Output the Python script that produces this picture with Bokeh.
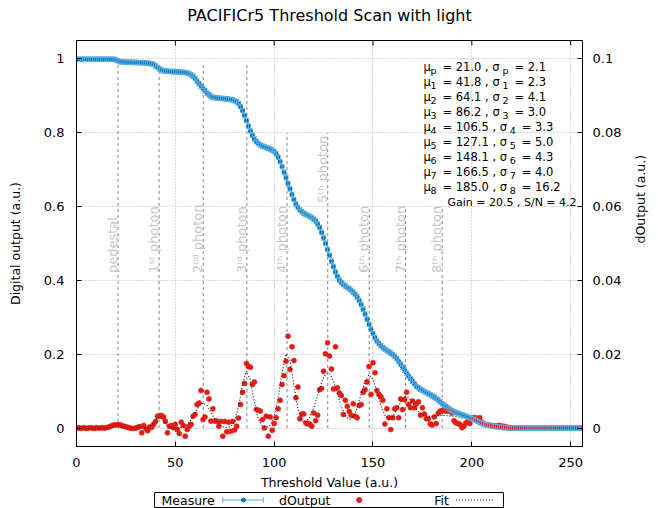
import math
from bokeh.plotting import figure
from bokeh.models import (Range1d, LinearAxis, FixedTicker, Whisker, TeeHead,
                          ColumnDataSource, NumeralTickFormatter)
from bokeh.layouts import column
from bokeh.embed import file_html
from bokeh.resources import INLINE
from bokeh.core.properties import value

# ---------------- data ----------------
title_text = "PACIFICr5 Threshold Scan with light"
threshold = list(range(256))

measure = [
    0.999, 0.999, 0.999, 0.999, 0.999, 0.999, 0.999, 0.999, 0.999, 0.999,
    0.999, 0.999, 0.999, 0.999, 0.999, 0.999, 0.999, 0.999, 0.999, 0.999,
    0.997, 0.995, 0.993, 0.992, 0.992, 0.991, 0.991, 0.991, 0.991, 0.990,
    0.991, 0.990, 0.990, 0.990, 0.990, 0.989, 0.989, 0.988, 0.987, 0.985,
    0.981, 0.977, 0.973, 0.970, 0.968, 0.967, 0.967, 0.966, 0.966, 0.966,
    0.965, 0.965, 0.965, 0.964, 0.964, 0.963, 0.962, 0.960, 0.957, 0.953,
    0.947, 0.940, 0.933, 0.926, 0.920, 0.914, 0.908, 0.903, 0.899, 0.896,
    0.895, 0.894, 0.894, 0.893, 0.893, 0.892, 0.892, 0.891, 0.890, 0.889,
    0.887, 0.884, 0.879, 0.871, 0.860, 0.847, 0.833, 0.818, 0.805, 0.793,
    0.783, 0.776, 0.771, 0.767, 0.764, 0.762, 0.760, 0.758, 0.756, 0.753,
    0.749, 0.743, 0.734, 0.722, 0.708, 0.693, 0.678, 0.663, 0.648, 0.633,
    0.619, 0.607, 0.598, 0.591, 0.586, 0.582, 0.579, 0.576, 0.573, 0.570,
    0.566, 0.561, 0.553, 0.543, 0.530, 0.515, 0.500, 0.484, 0.468, 0.452,
    0.437, 0.423, 0.411, 0.401, 0.394, 0.389, 0.385, 0.381, 0.377, 0.373,
    0.368, 0.362, 0.355, 0.346, 0.335, 0.322, 0.309, 0.295, 0.281, 0.268,
    0.256, 0.245, 0.236, 0.229, 0.223, 0.218, 0.214, 0.210, 0.207, 0.203,
    0.199, 0.194, 0.188, 0.181, 0.173, 0.165, 0.157, 0.149, 0.141, 0.134,
    0.127, 0.120, 0.113, 0.109, 0.105, 0.102, 0.099, 0.096, 0.093, 0.090,
    0.087, 0.084, 0.080, 0.076, 0.071, 0.066, 0.062, 0.058, 0.054, 0.050,
    0.047, 0.044, 0.042, 0.040, 0.038, 0.036, 0.034, 0.032, 0.030, 0.028,
    0.026, 0.024, 0.021, 0.018, 0.015, 0.013, 0.011, 0.009, 0.008, 0.007,
    0.006, 0.005, 0.004, 0.003, 0.002, 0.002, 0.001, 0.001, 0.000, 0.000,
    0.000, 0.000, 0.000, 0.000, 0.000, 0.000, 0.000, 0.000, 0.000, 0.000,
    0.000, 0.000, 0.000, 0.000, 0.000, 0.000, 0.000, 0.000, 0.000, 0.000,
    0.000, 0.000, 0.000, 0.000, 0.000, 0.000, 0.000, 0.000, 0.000, 0.000,
    0.000, 0.000, 0.000, 0.000, 0.000, 0.000,
]
measure_err = 0.006

doutput = [
    0.0000, 0.0001, -0.0001, 0.0000, 0.0001, -0.0001, 0.0000, 0.0001, 0.0000, -0.0001,
    0.0001, 0.0000, 0.0000, 0.0001, 0.0000, 0.0001, 0.0002, 0.0004, 0.0007, 0.0008,
    0.0009, 0.0008, 0.0009, 0.0006, 0.0005, 0.0003, 0.0002, 0.0000, -0.0001, -0.0001,
    0.0000, 0.0002, 0.0004, -0.0013, 0.0007, -0.0002, -0.0007, 0.0003, 0.0002, 0.0010,
    0.0018, 0.0032, 0.0033, 0.0034, 0.0030, 0.0018, -0.0013, 0.0005, 0.0007, 0.0001,
    0.0010, -0.0004, -0.0015, 0.0016, 0.0007, -0.0022, -0.0004, 0.0005, 0.0010, 0.0032,
    0.0037, 0.0064, 0.0068, 0.0102, 0.0023, 0.0030, 0.0097, 0.0079, 0.0019, 0.0052,
    0.0019, 0.0019, 0.0005, 0.0018, -0.0022, 0.0018, -0.0010, 0.0016, -0.0009, 0.0018,
    -0.0005, 0.0005, 0.0027, 0.0064, 0.0097, 0.0121, 0.0175, 0.0167, 0.0165, 0.0118,
    0.0125, 0.0050, 0.0048, 0.0046, 0.0023, 0.0000, 0.0032, -0.0022, 0.0030, -0.0006,
    0.0012, 0.0028, 0.0052, 0.0075, 0.0118, 0.0142, 0.0181, 0.0249, 0.0159, 0.0220,
    0.0183, 0.0082, 0.0111, 0.0025, 0.0038, 0.0038, 0.0014, 0.0011, 0.0011, 0.0005,
    0.0041, 0.0020, 0.0035, 0.0104, 0.0107, 0.0154, 0.0201, 0.0231, 0.0195, 0.0160,
    0.0106, 0.0220, 0.0109, 0.0095, 0.0088, 0.0037, 0.0075, 0.0059, 0.0045, 0.0035,
    0.0066, 0.0032, 0.0028, 0.0061, 0.0064, 0.0097, 0.0104, 0.0125, 0.0167, 0.0091,
    0.0177, 0.0150, 0.0102, 0.0091, 0.0085, 0.0075, 0.0011, 0.0052, 0.0028, -0.0004,
    0.0028, 0.0052, 0.0055, 0.0028, 0.0079, 0.0050, 0.0077, 0.0097, 0.0064, 0.0055,
    0.0073, 0.0055, 0.0066, 0.0071, 0.0035, 0.0055, 0.0038, 0.0025, 0.0025, 0.0011,
    0.0008, 0.0030, 0.0012, 0.0040, 0.0046, 0.0047, 0.0047, 0.0046, 0.0046, 0.0050,
    0.0041, 0.0020, 0.0014, 0.0012, 0.0010, 0.0001, 0.0005, 0.0014, 0.0018, 0.0012,
    0.0028, 0.0028, 0.0028, 0.0025, 0.0028, 0.0016, 0.0011, 0.0009, 0.0009, 0.0007,
    0.0007, 0.0006, 0.0005, 0.0006, 0.0007, 0.0005, 0.0005, 0.0003, 0.0002, 0.0001,
    0.0000, 0.0000, 0.0000, 0.0000, 0.0000, 0.0000, 0.0000, 0.0000, 0.0000, 0.0000,
    0.0000, 0.0000, 0.0000, 0.0000, 0.0000, 0.0000, 0.0000, 0.0000, 0.0000, 0.0000,
    0.0000, 0.0000, 0.0000, 0.0000, 0.0000, 0.0000, 0.0000, 0.0000, 0.0000, 0.0000,
    0.0000, 0.0000, 0.0000, 0.0000, 0.0000, 0.0000,
]

fit_x = list(range(0, 256, 2))
fit_y = [
    0, 0, 0, 0, 0, 0, 0, 0,
    0.00005, 0.00029, 0.00071, 0.00071, 0.00029, 0.00005, 0, 0, 0, 0.00001, 0.00013, 0.00079,
    0.00228, 0.00309, 0.00196, 0.00059, 0.00008, 0.00002, 0.00009, 0.00033, 0.00097, 0.00225,
    0.00413, 0.00596, 0.0068, 0.00611, 0.00433, 0.00242, 0.00106, 0.00037, 0.00015, 0.00039,
    0.00183, 0.00582, 0.01184, 0.01547, 0.01295, 0.00695, 0.00239, 0.00055, 0.0002, 0.00074,
    0.00292, 0.00801, 0.01524, 0.02007, 0.01831, 0.01161, 0.00522, 0.00201, 0.0016, 0.00291,
    0.00547, 0.00892, 0.01238, 0.01464, 0.01476, 0.01268, 0.00929, 0.00585, 0.00335, 0.00232,
    0.00301, 0.00547, 0.0092, 0.0128, 0.01445, 0.01321, 0.00985, 0.00614, 0.00354, 0.00256,
    0.00316, 0.00493, 0.00708, 0.00846, 0.0083, 0.00685, 0.00511, 0.00387, 0.00332, 0.00321,
    0.00326, 0.00334, 0.00339, 0.00339, 0.00334, 0.00324, 0.0031, 0.00291, 0.0027, 0.00246,
    0.00221, 0.00196, 0.00171, 0.00147, 0.00124, 0.00103, 0.00085, 0.00069, 0.00055, 0.00043,
    0.00033, 0.00025, 0.00019, 0.00014, 0.0001, 0.00007, 0.00005, 0.00003, 0.00002, 0,
    0, 0, 0, 0, 0, 0, 0, 0,
]

peak_mu = [21.0, 41.8, 64.1, 86.2, 106.5, 127.1, 148.1, 166.5, 185.0]
peak_sigma = [2.1, 2.3, 4.1, 3.0, 3.3, 5.0, 4.3, 4.0, 16.2]
peak_index = ["p", "1", "2", "3", "4", "5", "6", "7", "8"]
peak_names = ["pedestal", "1ˢᵗ photon", "2ⁿᵈ photon", "3ʳᵈ photon", "4ᵗʰ photon",
              "5ᵗʰ photon", "6ᵗʰ photon", "7ᵗʰ photon", "8ᵗʰ photon"]
peak_line_top = [0.99, 0.99, 0.99, 0.99, 0.80, 0.80, 0.60, 0.60, 0.60]
peak_label_y = [0.42, 0.42, 0.42, 0.42, 0.42, 0.61, 0.42, 0.42, 0.42]
gain = 20.5
snr = 4.2

x_ticks = [0, 50, 100, 150, 200, 250]
y_ticks = [0, 0.2, 0.4, 0.6, 0.8, 1.0]
y2_ticks = [0, 0.02, 0.04, 0.06, 0.08, 0.1]

# ---------------- style ----------------
FONT = "DejaVu Sans"
BLUE = "#0070b8"
ERRBLUE = "#5aaee0"
RED = "#e41c14"
GRID = "#b4b4b4"

FRAME_LEFT, FRAME_RIGHT = 76, 588          # page pixels of the plot frame
X0, X1 = 0, 256
Y0, Y1 = -0.05, 1.05
FRAME_W, FRAME_H = FRAME_RIGHT - FRAME_LEFT, 406
PXX = FRAME_W / (X1 - X0)      # px per x unit
PXY = FRAME_H / (Y1 - Y0)      # px per y unit


def bare_panel(h):
    # frames in a column are aligned with the main plot's frame, so map the
    # x range onto page pixels of that frame
    f = figure(width=658, height=h, x_range=Range1d(FRAME_LEFT, FRAME_RIGHT),
               y_range=Range1d(h, 0), output_backend="svg", toolbar_location=None,
               min_border=0, x_axis_location=None, y_axis_location=None)
    f.grid.visible = False
    f.outline_line_color = None
    f.background_fill_color = "white"
    f.border_fill_color = "white"
    return f


# ---------------- title ----------------
hf = bare_panel(28)
hf.text(x=[332], y=[15], text=[title_text], text_font=value(FONT),
        text_font_size="16px", text_color="black", text_align="center",
        text_baseline="middle")

# ---------------- main plot ----------------
p = figure(width=658, height=446, x_range=Range1d(X0, X1), y_range=Range1d(Y0, Y1),
           output_backend="svg", toolbar_location=None,
           min_border_left=FRAME_LEFT, min_border_right=658 - FRAME_RIGHT,
           min_border_top=12, min_border_bottom=28)
p.outline_line_color = "black"
p.outline_line_width = 1
p.extra_y_ranges = {"y2": Range1d(-0.005, 0.105)}
p.background_fill_color = "white"
p.border_fill_color = "white"


def style_axis(ax, ticks):
    ax.ticker = FixedTicker(ticks=ticks)
    ax.minor_tick_line_color = None
    ax.major_tick_in = 5
    ax.major_tick_out = 0
    ax.major_tick_line_color = "black"
    ax.axis_line_color = "black"
    ax.major_label_text_font = FONT
    ax.major_label_text_font_size = "13px"
    ax.major_label_text_color = "black"
    ax.axis_label_text_font = FONT
    ax.axis_label_text_font_size = "12.5px"
    ax.axis_label_text_font_style = "normal"
    ax.axis_label_text_color = "black"


xa = p.xaxis[0]
style_axis(xa, x_ticks)
xa.major_label_standoff = 11

ya = p.yaxis[0]
style_axis(ya, y_ticks)
ya.axis_label = "Digital output (a.u.)"
ya.formatter = NumeralTickFormatter(format="0.[0]")
ya.major_label_standoff = 12
ya.axis_label_standoff = 18

y2 = LinearAxis(y_range_name="y2", axis_label="dOutput (a.u.)")
style_axis(y2, y2_ticks)
y2.formatter = NumeralTickFormatter(format="0.[00]")
y2.major_label_standoff = 10
y2.axis_label_standoff = 16
try:
    y2.axis_label_orientation = math.pi / 2
except AttributeError:
    pass
p.add_layout(y2, "right")

p.xgrid.ticker = FixedTicker(ticks=x_ticks)
p.ygrid.ticker = FixedTicker(ticks=y_ticks)
for g in (p.xgrid[0], p.ygrid[0]):
    g.grid_line_color = GRID
    g.grid_line_dash = "1 2"
    g.grid_line_width = 1

# mirrored ticks on the top edge of the frame
p.segment(x0=x_ticks, y0=[Y1] * len(x_ticks), x1=x_ticks,
          y1=[Y1 - 5 / PXY] * len(x_ticks), line_color="black", line_width=1)

# vertical peak markers and their labels (labels sit just left of each marker)
p.segment(x0=peak_mu, y0=[0] * len(peak_mu), x1=peak_mu, y1=peak_line_top,
          line_color="#858585", line_dash="3 3", line_width=1)
label_x = [m - 5.5 / PXX for m in peak_mu]
p.text(x=label_x, y=peak_label_y, text=peak_names, angle=math.pi / 2,
       text_font=value(FONT), text_font_size="13px", text_color="#c6c6c6",
       text_align="left", text_baseline="alphabetic")

# measured curve with error bars
lo = [m - measure_err for m in measure]
hi = [m + measure_err for m in measure]
src = ColumnDataSource(dict(x=threshold, y=measure, lo=lo, hi=hi))
wh = Whisker(base="x", lower="lo", upper="hi", source=src, line_color=ERRBLUE, line_width=1,
             lower_head=TeeHead(size=5, line_color=ERRBLUE, line_width=1),
             upper_head=TeeHead(size=5, line_color=ERRBLUE, line_width=1), level="glyph")
p.add_layout(wh)
p.scatter(x="x", y="y", source=src, marker="circle", size=4, fill_color=BLUE,
          line_color=BLUE)

# derivative and fit (right axis)
p.scatter(x=threshold, y=doutput, y_range_name="y2", marker="circle", size=5,
          fill_color=RED, line_color=RED, line_alpha=0.6)
p.line(x=fit_x, y=fit_y, y_range_name="y2", line_color="#111111", line_dash="1 2",
       line_width=1.1)

# fit parameter box: main text with lowered, smaller subscripts
ADV = {"0": 0.636, "1": 0.636, "2": 0.636, "3": 0.636, "4": 0.636, "5": 0.636,
       "6": 0.636, "7": 0.636, "8": 0.636, "9": 0.636, " ": 0.318, "=": 0.838,
       ",": 0.318, ".": 0.318, "μ": 0.636, "σ": 0.634, "p": 0.635}
ANN_FS = 11.5
SUB_FS = 9.5
SUB_GAP = 6.0


def text_px(s, fs):
    return sum(ADV.get(c, 0.6) for c in s) * fs


ann_x0 = 175.5
ann_base_y = 0.9769
ann_step = 15 / PXY
main_x, main_y, main_t = [], [], []
sub_x, sub_y, sub_t = [], [], []
for i, (s, m, sg) in enumerate(zip(peak_index, peak_mu, peak_sigma)):
    yb = ann_base_y - i * ann_step
    pieces = ["μ", s, f" = {m:.1f} , σ", s, f" = {sg:.1f}"]
    xpx = 0.0
    for k, piece in enumerate(pieces):
        if k % 2 == 0:
            main_x.append(ann_x0 + xpx / PXX)
            main_y.append(yb)
            main_t.append(piece)
            xpx += text_px(piece, ANN_FS)
        else:
            sub_x.append(ann_x0 + xpx / PXX)
            sub_y.append(yb)
            sub_t.append(piece)
            xpx += text_px(piece, SUB_FS) + SUB_GAP
p.text(x=main_x, y=main_y, text=main_t, text_font=value(FONT),
       text_font_size=f"{ANN_FS}px", text_color="black", text_align="left",
       text_baseline="alphabetic")
p.text(x=sub_x, y=sub_y, text=sub_t, text_font=value(FONT), y_offset=3,
       text_font_size=f"{SUB_FS}px", text_color="black", text_align="left",
       text_baseline="alphabetic")
p.text(x=[253], y=[ann_base_y - 9 * ann_step],
       text=[f"Gain = {gain:.1f} , S/N = {snr:.1f}"],
       text_font=value(FONT), text_font_size="11px", text_color="black",
       text_align="right", text_baseline="alphabetic")

# ---------------- x label and key (below) ----------------
lf = bare_panel(34)
lf.text(x=[332], y=[8], text=["Threshold Value (a.u.)"], text_font=value(FONT),
        text_font_size="12.5px", text_color="black", text_align="center",
        text_baseline="middle")
lf.quad(left=[155], right=[508], top=[18], bottom=[33], fill_color=None,
        line_color="black", line_width=1)
lf.text(x=[162, 281, 438], y=[26, 26, 26], text=["Measure", "dOutput", "Fit"],
        text_font=value(FONT), text_font_size="12.5px", text_color="black",
        text_baseline="middle", text_align="left")
lf.segment(x0=[224, 224, 265], y0=[25.5, 22.5, 22.5], x1=[265, 224, 265],
           y1=[25.5, 28.5, 28.5], line_color=ERRBLUE, line_width=1)
lf.scatter(x=[245], y=[25.5], marker="circle", size=4, fill_color=BLUE, line_color=BLUE)
lf.scatter(x=[362], y=[25.5], marker="circle", size=5, fill_color=RED, line_color=RED)
lf.line(x=[460, 498], y=[25.5, 25.5], line_color="#111111", line_dash="1 2", line_width=1)

layout = column(hf, p, lf, spacing=0)
open("out.html", "w").write(file_html(layout, INLINE))
